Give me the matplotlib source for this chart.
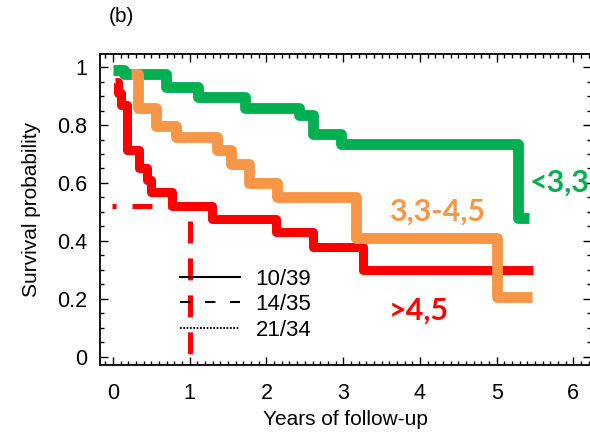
import matplotlib
matplotlib.use("Agg")
import matplotlib.pyplot as plt
from matplotlib.lines import Line2D
from matplotlib.ticker import MultipleLocator, FixedLocator, FixedFormatter

# Kaplan-Meier style step curves (years, survival)
green_t = [0.0, 0.14, 0.69, 1.11, 1.72, 2.42, 2.6, 2.97, 5.28, 5.42]
green_s = [0.99, 0.975, 0.93, 0.895, 0.86, 0.835, 0.77, 0.735, 0.48, 0.48]

orange_t = [0.24, 0.33, 0.56, 0.82, 1.36, 1.54, 1.77, 2.14, 3.17, 5.01, 5.46]
orange_s = [0.975, 0.86, 0.795, 0.76, 0.715, 0.665, 0.60, 0.55, 0.41, 0.205, 0.205]

red_t = [0.03, 0.07, 0.11, 0.18, 0.34, 0.44, 0.50, 0.77, 1.29, 2.12, 2.6, 3.26, 5.48]
red_s = [0.95, 0.91, 0.87, 0.715, 0.65, 0.61, 0.57, 0.52, 0.475, 0.43, 0.38, 0.30, 0.30]

# red median marker lines
median_s = 0.52
median_t = 1.0

legend_labels = ["10/39", "14/35", "21/34"]
group_labels = ["<3,3", "3,3-4,5", ">4,5"]

y_ticks = [0, 0.2, 0.4, 0.6, 0.8, 1]
y_ticklabels = ["0", "0.2", "0.4", "0.6", "0.8", "1"]
x_ticks = [0, 1, 2, 3, 4, 5, 6]

GREEN = "#00B050"
ORANGE = "#F79646"
RED = "#FF0000"

plt.rcParams["font.family"] = ["Liberation Sans", "DejaVu Sans"]
plt.rcParams["lines.scale_dashes"] = False

fig = plt.figure(figsize=(5.9, 4.33), dpi=100)
ax = fig.add_axes([100 / 590, 1 - 365 / 433, 491 / 590, 311 / 433])

ax.set_xlim(-0.17, 6.23)
ax.set_ylim(-0.028, 1.045)

# median reference lines (under the curves)
ax.plot([-0.013, median_t], [median_s, median_s], color=RED, lw=3.6,
        ls=(11.5, (14.4, 11.5)), dash_capstyle="butt", zorder=2)
ax.plot([median_t, median_t], [0.47, 0.0], color=RED, lw=3.6,
        ls=(0, (15.8, 10.8)), dash_capstyle="butt", zorder=2)

kw = dict(drawstyle="steps-post", solid_joinstyle="round", solid_capstyle="butt")
ax.plot(green_t, green_s, color=GREEN, lw=7.8, zorder=3, **kw)
ax.plot(red_t, red_s, color=RED, lw=6.5, zorder=4, **kw)
ax.plot(orange_t, orange_s, color=ORANGE, lw=7.8, zorder=5, **kw)

# group labels
lab_kw = dict(fontfamily="Lato", fontweight="bold", fontsize=22, va="center", ha="left")
ax.text(5.43, 0.60, group_labels[0], color=GREEN, clip_on=False, **lab_kw)
ax.text(3.6, 0.50, group_labels[1], color=ORANGE, **lab_kw)
ax.text(3.6, 0.16, group_labels[2], color=RED, **lab_kw)

# original black legend
handles = [
    Line2D([], [], color="black", lw=1.5, ls="-"),
    Line2D([], [], color="black", lw=1.5, ls=(0, (7.5, 10.5))),
    Line2D([], [], color="black", lw=1.5, ls=(0, (1.2, 1.2))),
]
ax.legend(handles, legend_labels, loc="upper left", bbox_to_anchor=(0.14, 0.345),
          frameon=False, fontsize=16, handlelength=2.7, handletextpad=0.7,
          labelspacing=0.2, borderpad=0)

ax.xaxis.set_major_locator(FixedLocator(x_ticks))
ax.xaxis.set_minor_locator(MultipleLocator(0.1))
ax.yaxis.set_major_locator(FixedLocator(y_ticks))
ax.yaxis.set_major_formatter(FixedFormatter(y_ticklabels))
ax.yaxis.set_minor_locator(MultipleLocator(0.05))
ax.tick_params(which="both", direction="in", top=True, right=True, width=1)
ax.tick_params(which="major", length=6)
ax.tick_params(which="minor", length=3)
ax.tick_params(axis="x", which="major", labelsize=15.5, pad=13)
ax.tick_params(axis="y", which="major", labelsize=15.5, pad=9)
for sp in ax.spines.values():
    sp.set_linewidth(1.3)

ax.set_xlabel("Years of follow-up", fontsize=15, labelpad=4)
ax.set_ylabel("Survival probability", fontsize=15, labelpad=12)

fig.text(121 / 590, 1 - 17 / 433, "(b)", fontsize=15, ha="center", va="center")

fig.savefig("out.png", dpi=100)
